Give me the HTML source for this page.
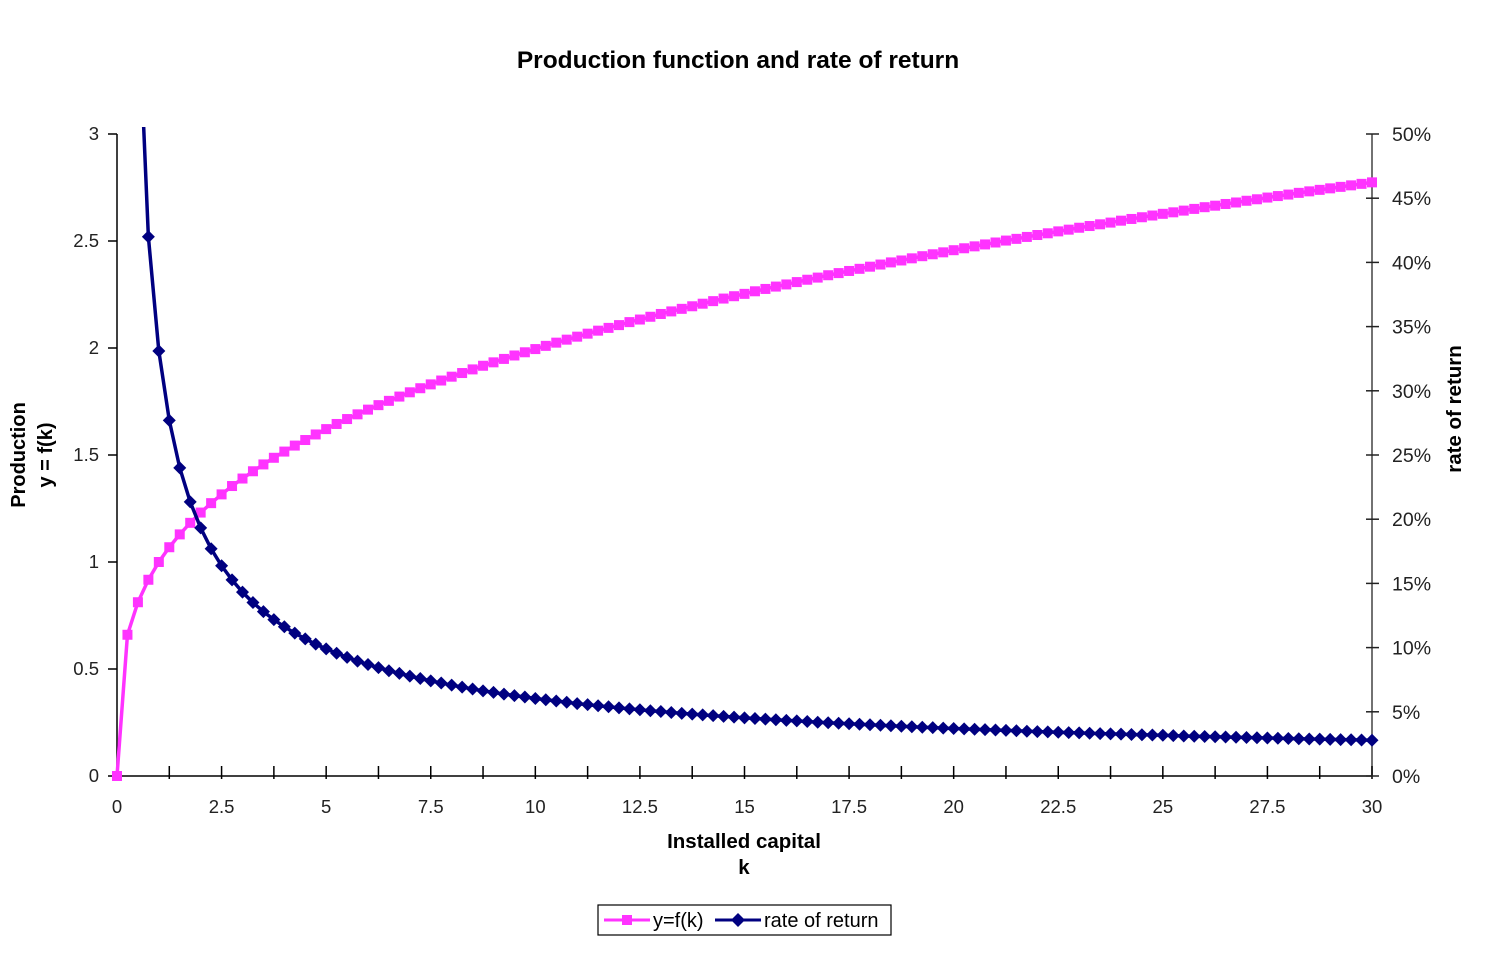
<!DOCTYPE html>
<html><head><meta charset="utf-8"><style>
html,body{margin:0;padding:0;background:#fff;}
svg{display:block;font-family:"Liberation Sans",Arial,sans-serif;}
</style></head><body>
<svg id="chart" width="1487" height="973" viewBox="0 0 1487 973">
<defs><clipPath id="plotclip"><rect x="100" y="127" width="1290" height="667"/></clipPath></defs>
<text x="738" y="68" text-anchor="middle" font-size="24.5" font-weight="bold" fill="#000">Production function and rate of return</text>
<g id="axes"></g>
<g id="series" clip-path="url(#plotclip)"></g>
<text transform="translate(25,455) rotate(-90)" text-anchor="middle" font-size="20" font-weight="bold"><tspan x="0" dy="0">Production</tspan><tspan x="0" dy="27">y = f(k)</tspan></text>
<text transform="translate(1461,409) rotate(-90)" text-anchor="middle" font-size="20.5" font-weight="bold">rate of return</text>
<text x="744" y="848" text-anchor="middle" font-size="20.5" font-weight="bold">Installed capital</text>
<text x="744" y="874" text-anchor="middle" font-size="20.5" font-weight="bold">k</text>
<g>
<rect x="598" y="905" width="293" height="30" fill="#fff" stroke="#000" stroke-width="1.2"/>
<g>
<line x1="604" y1="920" x2="650" y2="920" stroke="#ff33ff" stroke-width="3"/>
<rect x="622" y="915" width="10" height="10" fill="#ff33ff"/>
<text x="653" y="927" font-size="20">y=f(k)</text></g>
<g>
<line x1="715" y1="920" x2="761" y2="920" stroke="#000080" stroke-width="3"/>
<polygon points="738,913 745,920 738,927 731,920" fill="#000080"/>
<text x="764" y="927" font-size="20">rate of return</text></g>
</g>
</svg>
<script>
const kStep = 0.25;
const production = [0,0.660,0.812,0.917,1.000,1.069,1.129,1.183,1.231,1.275,1.316,1.355,1.390,1.424,1.456,1.487,1.516,1.544,1.570,1.596,1.621,1.645,1.668,1.690,1.712,1.733,1.753,1.773,1.793,1.812,1.830,1.848,1.866,1.883,1.900,1.917,1.933,1.949,1.965,1.980,1.995,2.010,2.025,2.039,2.053,2.067,2.081,2.094,2.107,2.121,2.133,2.146,2.159,2.171,2.183,2.195,2.207,2.219,2.231,2.242,2.253,2.265,2.276,2.287,2.297,2.308,2.319,2.329,2.340,2.350,2.360,2.370,2.380,2.390,2.400,2.409,2.419,2.429,2.438,2.447,2.457,2.466,2.475,2.484,2.493,2.502,2.510,2.519,2.528,2.536,2.545,2.553,2.562,2.570,2.578,2.586,2.595,2.603,2.611,2.619,2.627,2.634,2.642,2.650,2.658,2.665,2.673,2.680,2.688,2.695,2.703,2.710,2.717,2.725,2.732,2.739,2.746,2.753,2.760,2.767,2.774];
// rate of return in percent, starting at k=0.25
const rateOfReturn = [263.9,61.0,42.0,33.1,27.7,24.0,21.35,19.32,17.70,16.37,15.27,14.32,13.51,12.80,12.18,11.62,11.13,10.68,10.27,9.90,9.56,9.24,8.95,8.68,8.44,8.20,7.99,7.78,7.59,7.41,7.24,7.08,6.92,6.78,6.63,6.51,6.38,6.26,6.15,6.04,5.94,5.84,5.74,5.64,5.56,5.47,5.39,5.31,5.23,5.16,5.08,5.02,4.95,4.88,4.82,4.76,4.70,4.64,4.59,4.53,4.48,4.43,4.38,4.33,4.29,4.24,4.19,4.15,4.11,4.07,4.03,3.99,3.95,3.91,3.87,3.84,3.80,3.77,3.73,3.70,3.67,3.64,3.61,3.58,3.55,3.52,3.49,3.46,3.44,3.41,3.38,3.36,3.33,3.30,3.28,3.26,3.23,3.21,3.19,3.17,3.14,3.12,3.10,3.08,3.06,3.04,3.02,3.00,2.98,2.96,2.94,2.92,2.90,2.88,2.87,2.85,2.83,2.82,2.80,2.78];
const xTickLabels = ["0","2.5","5","7.5","10","12.5","15","17.5","20","22.5","25","27.5","30"];
const leftTickLabels = ["0","0.5","1","1.5","2","2.5","3"];
const rightTickLabels = ["0%","5%","10%","15%","20%","25%","30%","35%","40%","45%","50%"];

const X0=117,X1=1372,Y0=776,Y1=134;
const xs=k=>X0+(k/30)*(X1-X0);
const yl=v=>Y0-(v/3)*(Y0-Y1);
const yr=p=>Y0-(p/50)*(Y0-Y1);
const NS="http://www.w3.org/2000/svg";
function mk(tag,attrs,parent){const e=document.createElementNS(NS,tag);for(const a in attrs)e.setAttribute(a,attrs[a]);parent.appendChild(e);return e;}
const axes=document.getElementById('axes'), series=document.getElementById('series');

const xa=mk('line',{x1:X0,y1:Y0,x2:X1,y2:Y0,stroke:'#000','stroke-width':1.5},axes);


const la=mk('line',{x1:X0,y1:Y1,x2:X0,y2:Y0,stroke:'#000','stroke-width':1.5},axes);


const ra=mk('line',{x1:X1,y1:Y1,x2:X1,y2:Y0,stroke:'#444','stroke-width':1.5},axes);



for(let i=0;i<=24;i++){const x=xs(i*1.25);mk('line',{x1:x,y1:Y0-10,x2:x,y2:Y0+3,stroke:'#000','stroke-width':1.5},axes);}
xTickLabels.forEach((t,i)=>{const e=mk('text',{x:xs(i*2.5),y:Y0+37,'text-anchor':'middle','font-size':18.5,fill:'#222'},axes);e.textContent=t;

});
leftTickLabels.forEach((t,i)=>{const y=yl(i*0.5);mk('line',{x1:X0-9,y1:y,x2:X0,y2:y,stroke:'#000','stroke-width':1.5},axes);
const e=mk('text',{x:X0-18,y:y+6,'text-anchor':'end','font-size':18.5,fill:'#222'},axes);e.textContent=t;

});
rightTickLabels.forEach((t,i)=>{const y=yr(i*5);mk('line',{x1:X1-6,y1:y,x2:X1+7,y2:y,stroke:'#222','stroke-width':1.5},axes);
const e=mk('text',{x:X1+20,y:y+7,'font-size':19.5,fill:'#222'},axes);e.textContent=t;

});

// production series
const pPts=production.map((v,i)=>[xs(i*kStep),yl(v)]);
const pl=mk('polyline',{points:pPts.map(p=>p.join(',')).join(' '),fill:'none',stroke:'#ff33ff','stroke-width':3.5},series);


pPts.forEach(p=>{const r=mk('rect',{x:p[0]-5,y:p[1]-5,width:10,height:10,fill:'#ff33ff'},series);

});

// rate series
const rPts=rateOfReturn.map((v,i)=>[xs((i+1)*kStep),yr(v)]);
const rl=mk('polyline',{points:rPts.map(p=>p.join(',')).join(' '),fill:'none',stroke:'#000080','stroke-width':3.5},series);


rPts.forEach(p=>{const d=mk('polygon',{points:`${p[0]},${p[1]-6.5} ${p[0]+6.5},${p[1]} ${p[0]},${p[1]+6.5} ${p[0]-6.5},${p[1]}`,fill:'#000080'},series);

});
</script>
</body></html>
